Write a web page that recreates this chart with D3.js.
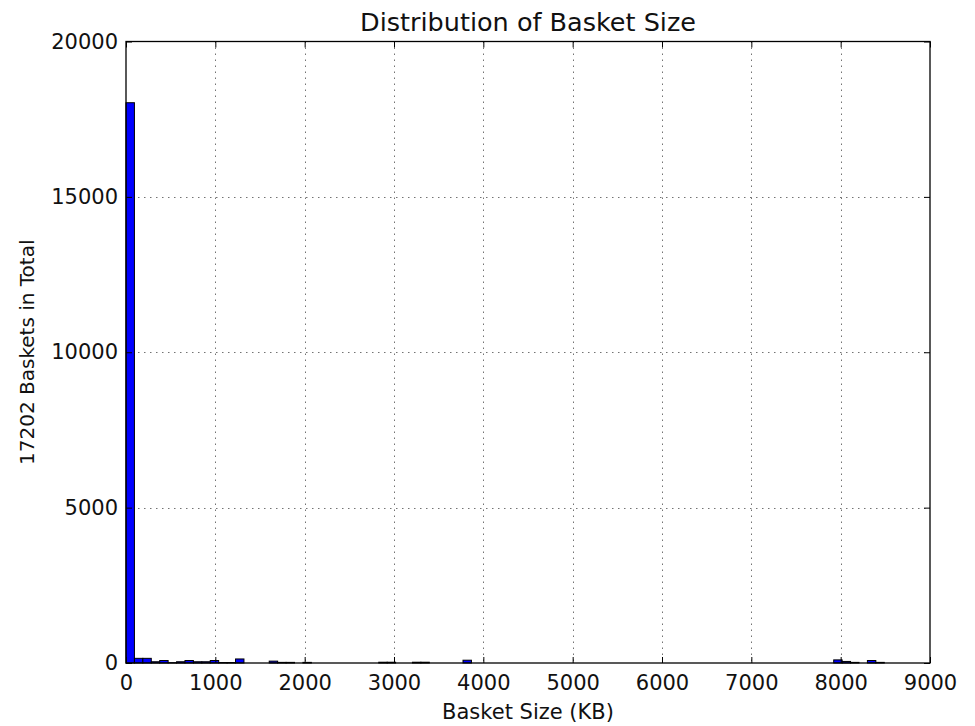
<!DOCTYPE html>
<html>
<head>
<meta charset="utf-8">
<script src="https://cdn.jsdelivr.net/npm/d3@7"></script>
<style>
  html, body { margin: 0; padding: 0; background: #fff; }
  svg { display: block; font-family: "DejaVu Sans", sans-serif; }
</style>
</head>
<body>
<svg id="chart" width="975" height="726"></svg>
<script>
// ---- data ----
const binMin = 0;
const binMax = 8488;
const binCounts = [
  18030, 150, 150, 40, 80, 10, 40, 80, 40, 40,
  80, 15, 15, 130, 0, 0, 0, 60, 20, 20,
  0, 20, 0, 0, 0, 0, 0, 0, 0, 0,
  25, 25, 0, 0, 25, 25, 0, 0, 0, 0,
  90, 0, 0, 0, 0, 0, 0, 0, 0, 0,
  0, 0, 0, 0, 0, 0, 0, 0, 0, 0,
  0, 0, 0, 0, 0, 0, 0, 0, 0, 0,
  0, 0, 0, 0, 0, 0, 0, 0, 0, 0,
  0, 0, 0, 0, 100, 50, 20, 0, 80, 20
];
const xTicks = [0, 1000, 2000, 3000, 4000, 5000, 6000, 7000, 8000, 9000];
const yTicks = [0, 5000, 10000, 15000, 20000];
const titleText = "Distribution of Basket Size";
const xLabelText = "Basket Size (KB)";
const yLabelText = "17202 Baskets in Total";

// ---- layout ----
const L = 126, R = 930, T = 41.5, B = 663;
const svg = d3.select("#chart");
const x = d3.scaleLinear().domain([0, 9000]).range([L, R]);
const y = d3.scaleLinear().domain([0, 20000]).range([B, T]);

const nb = binCounts.length;
const bw = (binMax - binMin) / nb;
const bins = binCounts.map((c, i) => ({ x0: binMin + i * bw, x1: binMin + (i + 1) * bw, c }));

// grid
const grid = svg.append("g").attr("stroke", "#000").attr("stroke-opacity", 0.55)
  .attr("stroke-width", 1).attr("stroke-dasharray", "1.5,4.5");
xTicks.filter(t => t > 0 && t < 9000).forEach(t => {
  grid.append("line").attr("x1", Math.round(x(t)) + 0.5).attr("x2", Math.round(x(t)) + 0.5)
    .attr("y1", T).attr("y2", B);
});
yTicks.filter(t => t > 0 && t < 20000).forEach(t => {
  grid.append("line").attr("y1", Math.round(y(t)) + 0.5).attr("y2", Math.round(y(t)) + 0.5)
    .attr("x1", L).attr("x2", R);
});

// bars
svg.append("g").selectAll("rect").data(bins.filter(d => d.c > 0)).join("rect")
  .attr("x", d => x(d.x0))
  .attr("width", d => x(d.x1) - x(d.x0))
  .attr("y", d => y(d.c))
  .attr("height", d => y(0) - y(d.c))
  .attr("fill", "#0000ff")
  .attr("stroke", "#000")
  .attr("stroke-width", 1);

// axes via d3 (ticks inward)
const tickLen = 6;
const fs = 21;
const xAxisB = svg.append("g").attr("transform", `translate(0,${B})`)
  .call(d3.axisBottom(x).tickValues(xTicks).tickSize(-tickLen).tickPadding(tickLen + 6).tickFormat(d3.format("d")));
const xAxisT = svg.append("g").attr("transform", `translate(0,${T})`)
  .call(d3.axisTop(x).tickValues(xTicks).tickSize(-tickLen).tickFormat(""));
const yAxisL = svg.append("g").attr("transform", `translate(${L},0)`)
  .call(d3.axisLeft(y).tickValues(yTicks).tickSize(-tickLen).tickPadding(tickLen + 2).tickFormat(d3.format("d")));
const yAxisR = svg.append("g").attr("transform", `translate(${R},0)`)
  .call(d3.axisRight(y).tickValues(yTicks).tickSize(-tickLen).tickFormat(""));
[xAxisB, xAxisT, yAxisL, yAxisR].forEach(g => {
  g.select(".domain").remove();
  g.selectAll(".tick line").attr("stroke", "#000").attr("stroke-width", 1);
  g.selectAll(".tick text").attr("font-size", fs).attr("font-family", "DejaVu Sans").attr("fill", "#111");
});
xAxisB.selectAll(".tick text").attr("dy", "0.71em");

// frame
svg.append("rect").attr("x", L).attr("y", T).attr("width", R - L).attr("height", B - T)
  .attr("fill", "none").attr("stroke", "#000").attr("stroke-width", 1.3);

// title & labels
svg.append("text").attr("x", (L + R) / 2).attr("y", 31).attr("text-anchor", "middle")
  .attr("font-size", 25.5).attr("fill", "#111").text(titleText);
svg.append("text").attr("x", (L + R) / 2).attr("y", 719).attr("text-anchor", "middle")
  .attr("font-size", 21).attr("fill", "#111").text(xLabelText);
svg.append("text").attr("transform", `translate(34,${(T + B) / 2}) rotate(-90)`)
  .attr("text-anchor", "middle").attr("font-size", 20).attr("fill", "#111").text(yLabelText);
</script>
</body>
</html>
